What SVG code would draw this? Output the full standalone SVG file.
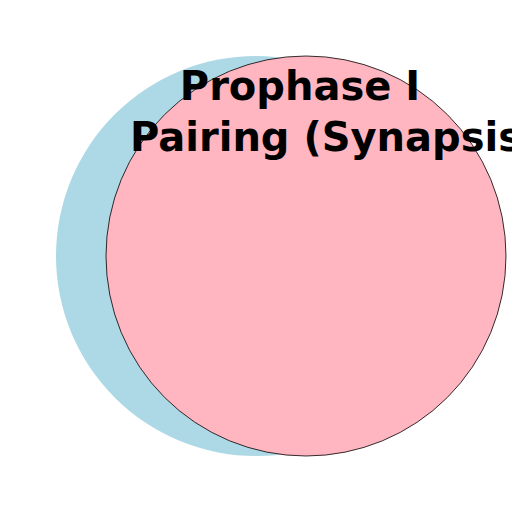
<svg xmlns="http://www.w3.org/2000/svg" width="512" height="512" viewBox="0 0 512 512">
<style>
.t{font-family:"DejaVu Sans",sans-serif;font-weight:bold;font-size:40px;fill:#000}
</style>
<rect width="512" height="512" fill="#fff"/>
<g id="circle-blue"><circle cx="256" cy="256" r="200" fill="#add8e6"/></g>
<g id="circle-pink"><circle cx="306" cy="256" r="200" fill="#ffb6c1" stroke="#000" stroke-width="0.8"/></g>
<g id="title">
<text class="t" x="300" y="100" text-anchor="middle">Prophase I</text>
<text class="t" x="130" y="151">Pairing (Synapsis)</text>
</g>
</svg>
